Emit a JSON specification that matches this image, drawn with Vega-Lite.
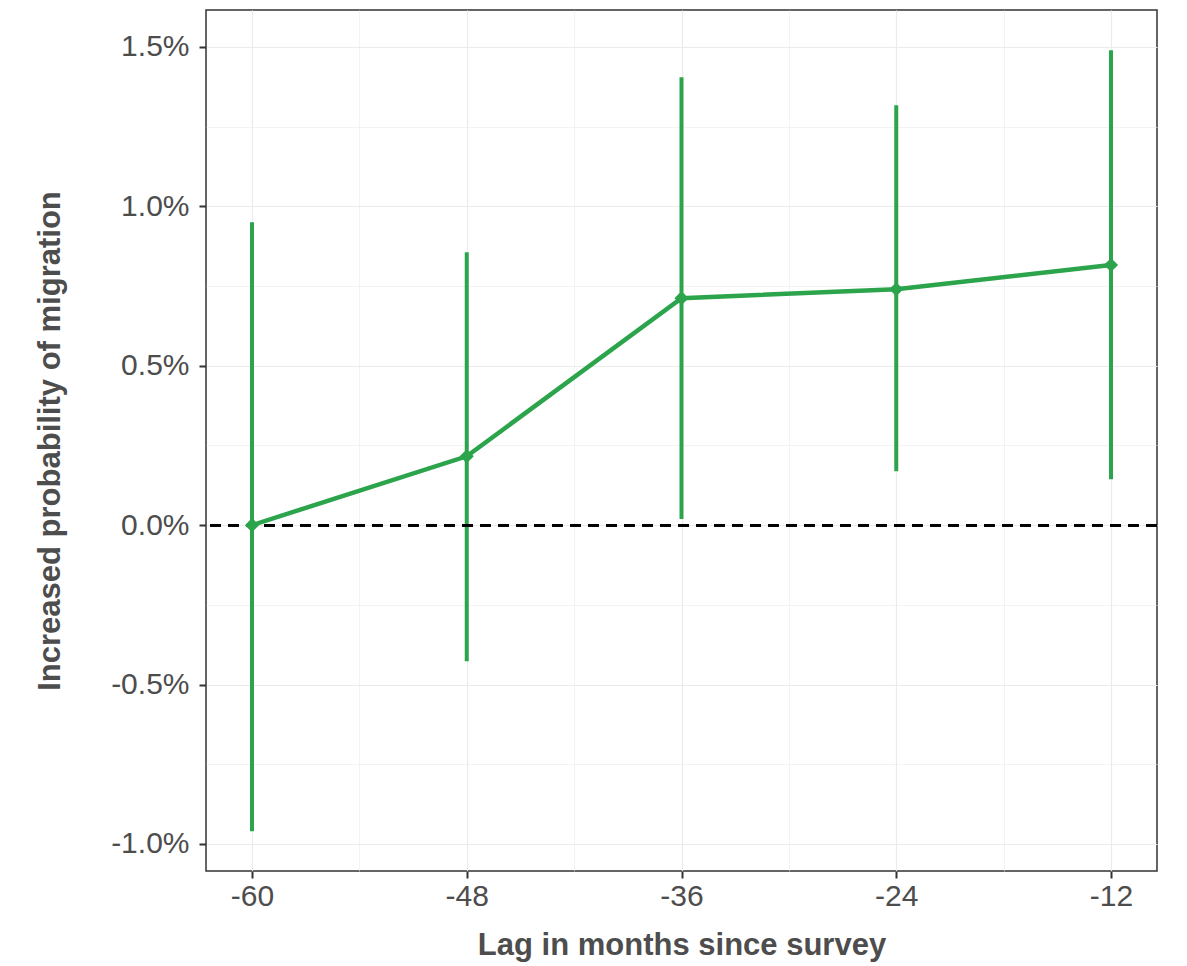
{
  "$schema": "https://vega.github.io/schema/vega-lite/v6.json",
  "width": 951,
  "height": 861,
  "autosize": {"type": "none"},
  "padding": {"left": 206, "top": 10, "right": 30, "bottom": 95},
  "background": "white",
  "config": {
    "view": {"stroke": "#333333", "strokeWidth": 1.5},
    "axis": {
      "domain": false,
      "grid": true,
      "gridColor": "#ebebeb",
      "tickColor": "#333333",
      "tickWidth": 2,
      "tickSize": 7,
      "labelFont": "Liberation Sans",
      "labelFontSize": 30,
      "labelColor": "#4d4d4d",
      "labelOverlap": false,
      "labelFlush": false,
      "titleFont": "Liberation Sans",
      "titleFontSize": 31,
      "titleFontWeight": "bold",
      "titleColor": "#4d4d4d"
    }
  },
  "data": {
    "values": [
      {"lag": -60, "est": 0.0, "lo": -0.96, "hi": 0.95},
      {"lag": -48, "est": 0.216, "lo": -0.427, "hi": 0.856},
      {"lag": -36, "est": 0.712, "lo": 0.019, "hi": 1.405},
      {"lag": -24, "est": 0.74, "lo": 0.169, "hi": 1.317},
      {"lag": -12, "est": 0.816, "lo": 0.144, "hi": 1.49}
    ]
  },
  "layer": [
    {
      "mark": {"type": "rule", "color": "#2ca44b", "strokeWidth": 4},
      "encoding": {
        "x": {
          "field": "lag",
          "type": "quantitative",
          "scale": {"domain": [-62.57, -9.43], "nice": false, "zero": false},
          "axis": {
            "title": "Lag in months since survey",
            "values": [-60, -54, -48, -42, -36, -30, -24, -18, -12],
            "labelExpr": "datum.value % 12 === 0 ? '' + datum.value : ''",
            "tickOpacity": {"condition": {"test": "datum.value % 12 === 0", "value": 1}, "value": 0},
            "gridWidth": {"condition": {"test": "datum.value % 12 === 0", "value": 1.2}, "value": 0.6},
            "labelPadding": 3,
            "titlePadding": 19
          }
        },
        "y": {
          "field": "lo",
          "type": "quantitative",
          "scale": {"domain": [-1.085, 1.616], "nice": false, "zero": false},
          "title": "Increased probability of migration",
          "axis": {
            "title": "Increased probability of migration",
            "values": [-1, -0.75, -0.5, -0.25, 0, 0.25, 0.5, 0.75, 1, 1.25, 1.5],
            "labelExpr": "abs(datum.value * 2 - round(datum.value * 2)) < 0.001 ? (datum.value < 0 ? '-' : '') + format(abs(datum.value), '.1f') + '%' : ''",
            "tickOpacity": {"condition": {"test": "abs(datum.value * 2 - round(datum.value * 2)) < 0.001", "value": 1}, "value": 0},
            "gridWidth": {"condition": {"test": "abs(datum.value * 2 - round(datum.value * 2)) < 0.001", "value": 1.2}, "value": 0.6},
            "labelPadding": 10,
            "titlePadding": 44
          }
        },
        "y2": {"field": "hi"}
      }
    },
    {
      "mark": {"type": "rule", "color": "#000000", "strokeWidth": 2.5, "strokeDash": [11, 7]},
      "encoding": {
        "y": {"datum": 0, "type": "quantitative", "title": "Increased probability of migration"}
      }
    },
    {
      "mark": {"type": "line", "color": "#2ca44b", "strokeWidth": 4.5},
      "encoding": {
        "x": {"field": "lag", "type": "quantitative", "title": "Lag in months since survey"},
        "y": {"field": "est", "type": "quantitative", "title": "Increased probability of migration"}
      }
    },
    {
      "mark": {"type": "point", "shape": "diamond", "filled": true, "color": "#2ca44b", "opacity": 1, "size": 200},
      "encoding": {
        "x": {"field": "lag", "type": "quantitative", "title": "Lag in months since survey"},
        "y": {"field": "est", "type": "quantitative", "title": "Increased probability of migration"}
      }
    }
  ]
}
